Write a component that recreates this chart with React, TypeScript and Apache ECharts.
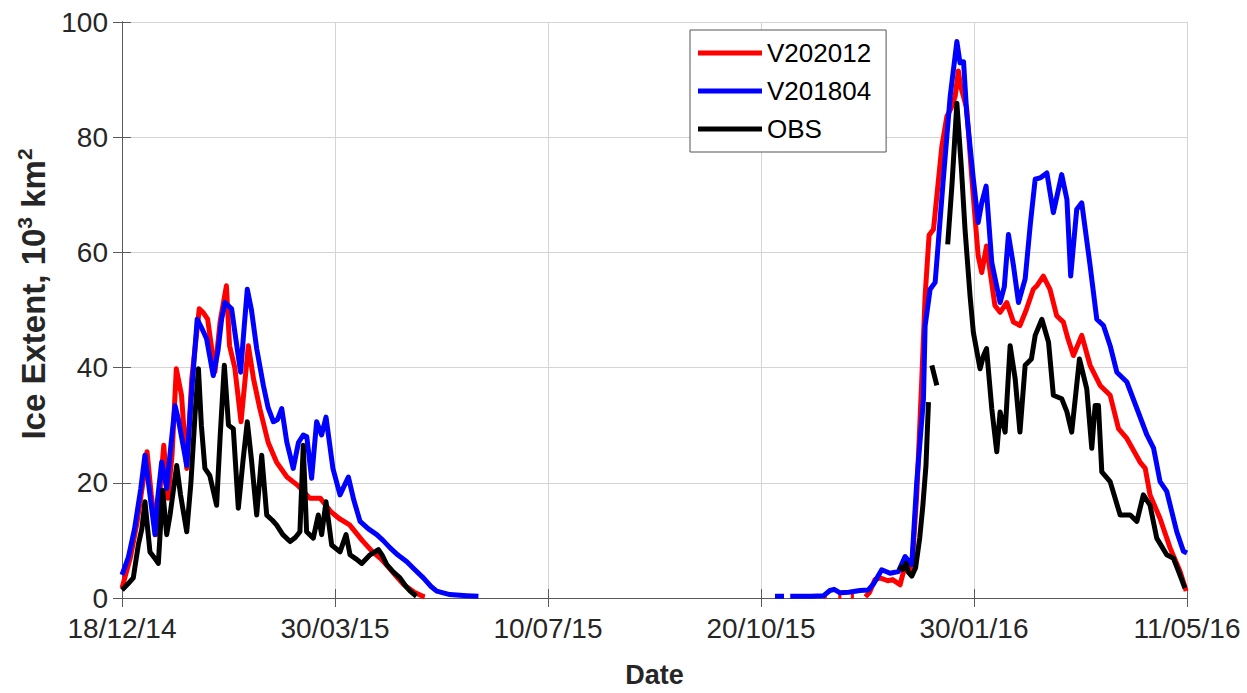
import React, { useEffect, useRef } from 'react';
import * as echarts from 'echarts';

// x values are days since 18/12/14
const xTickLabels = ['18/12/14', '30/03/15', '10/07/15', '20/10/15', '30/01/16', '11/05/16'];
const xTickStepDays = 102;
const xMaxDays = 510;
const yMin = 0;
const yMax = 100;
const yStep = 20;

const seriesNames = ['V202012', 'V201804', 'OBS'];

type Pt = [number, number | null];

const v202012: Pt[] = [
  [0, 1.7], [4, 7], [7, 12.7], [10, 20], [12, 25.4], [14, 18], [16.5, 11], [18, 18], [20, 26.5], [22, 17.3],
  [24, 25], [26, 39.8], [28.5, 35.2], [31, 22.5], [33.4, 38], [37, 50.2], [39, 49.5], [41, 48.4], [44.5, 39.3],
  [47, 48], [50, 54.2], [51.5, 43.8], [54, 40], [57, 30.6], [60.5, 43.8], [63, 38], [66, 32.9], [70, 27],
  [74, 23.6], [79, 21], [84, 19.6], [90, 17.3], [95, 17.3], [100, 15], [104, 13.8], [109, 12.7], [115, 10],
  [120, 8], [124, 6.8], [128, 5.2], [132, 3.5], [135, 2.3], [140, 1], [144, 0.3], [145, 0.2],
  [146, null],
  [336, 0.3], [337.5, 0.3], [338, null], [343, 0.3], [344.5, 0.3], [345, null], [349, 0.3], [350.5, 0.3], [351, null],
  [356, 0.2], [358, 1], [360.6, 3.2], [363, 3.5], [366.7, 3], [369, 3.2], [372.6, 2.3], [375.5, 6.3],
  [378.2, 4.9], [380.6, 18], [383, 38], [384.6, 52.5], [386.5, 63], [388.6, 64], [392.6, 78.4], [395, 83.6],
  [397, 85], [399, 87.1], [400.5, 91.5], [401.5, 89], [404.5, 85], [407, 72.7], [410, 59.4], [411.7, 56.5],
  [414, 61.1], [418, 50.8], [420.5, 49.6], [423.7, 51.3], [426.9, 47.9], [430, 47.3], [433, 50], [436.4, 53.6],
  [438.1, 54.2], [441.2, 55.9], [444.4, 53.6], [447.6, 49], [450.8, 47.9], [453, 45], [455.6, 42.1],
  [459.6, 45.6], [463.6, 40.4], [468.4, 36.9], [473.2, 35.2], [477.2, 29.4], [481.2, 27.7], [487.5, 23.6],
  [490, 22.5], [492.3, 17.9], [497.1, 13.8], [501.9, 8.7], [506.7, 4.6], [509.6, 1.2],
];

const v201804: Pt[] = [
  [0, 4], [3, 7], [6, 12], [9, 19], [11, 24.8], [13, 19], [15.8, 11], [17, 17], [19, 23.6], [21.4, 19],
  [23, 25], [25.4, 33.4], [27, 31], [29, 27], [31, 23], [33, 34], [36, 48.4], [38, 47], [40.5, 45],
  [43.7, 38.6], [46, 43], [47.7, 48.4], [49.3, 51.3], [52.5, 50.2], [54.5, 45], [56.8, 39.2], [58.5, 47],
  [60, 53.6], [62, 50], [64.5, 43.3], [67.7, 36.9], [70, 33], [72.5, 30.6], [74.5, 31], [76.5, 32.9],
  [78.9, 27.1], [82, 22.5], [84.5, 27], [86.8, 28.3], [88.5, 28], [90.8, 20.8], [93.2, 30.6], [95.6, 28.3],
  [97.7, 31.4], [101, 22.5], [104.4, 17.9], [108.4, 21], [111, 17], [114, 13.3], [118, 12], [122, 11],
  [125, 10], [128.4, 8.7], [132, 7.5], [136.4, 6.3], [140, 5], [144.3, 3.5], [148, 2], [150.7, 1.2],
  [157, 0.6], [165, 0.4], [170.7, 0.3],
  [172, null],
  [312.7, 0.3], [317, 0.3], [318, null], [320, 0.3], [325, 0.3], [330, 0.3], [336, 0.4], [339, 1.3],
  [341, 1.5], [343.9, 0.9], [348, 1], [353.4, 1.3], [357.4, 1.4], [360, 2.5], [363.8, 4.9], [367.8, 4.3],
  [371.8, 4.6], [375, 7.2], [378.2, 5.8], [380.6, 20.2], [383.8, 34.6], [384.6, 47.3], [387, 53.6],
  [389.4, 54.8], [393.3, 72.7], [396.6, 87.1], [399.8, 96.6], [401.3, 92.9], [403, 93.1], [404.5, 84.2],
  [407.7, 72.7], [410, 65.2], [411.7, 68.6], [413.8, 71.5], [416.5, 58.3], [420.5, 51.3], [422.5, 54],
  [424.5, 63.1], [426.9, 57.7], [429.3, 51.3], [432.5, 55.4], [435, 65], [437.3, 72.7], [440, 73],
  [442.9, 73.8], [446, 66.9], [450, 73.5], [452.5, 69.2], [454.3, 55.9], [457.2, 67.5], [459.6, 68.6],
  [463.6, 57.7], [466.8, 48.4], [470, 47.3], [473.2, 43.8], [476.4, 39.2], [481.2, 37.5], [486, 32.9],
  [490.8, 28.3], [494, 26], [497.1, 20.2], [500.3, 18.5], [505.1, 11.5], [508.3, 8.1], [510, 7.8],
];

const obs: Pt[] = [
  [0, 1.4], [3, 2.5], [5.4, 3.5], [7.8, 9.2], [9.5, 12], [11, 16.7], [13.4, 8], [15.5, 7], [17.4, 6],
  [19.5, 18.7], [21.4, 11], [23, 14.4], [26.2, 23], [28, 18], [31, 11.5], [33, 20], [35, 32], [36.6, 39.8],
  [38, 30], [39.7, 22.5], [42, 21.3], [45.3, 16.1], [47, 28], [49, 40.4], [51, 30], [53.3, 29.4],
  [55.7, 15.6], [58, 24], [60, 30.6], [62, 24], [64.5, 14.4], [66.9, 24.8], [69.3, 14.4], [72, 13.5],
  [74, 12.7], [77, 11], [80.5, 9.8], [83, 10.5], [85.2, 11.5], [86.8, 26.5], [88.4, 11.5], [91.6, 10.4],
  [94, 14.4], [95.6, 11], [97.7, 16.7], [100.4, 9.2], [104.4, 8], [107.3, 11], [109.2, 7.5], [112, 6.8],
  [114.8, 6], [118.8, 7.5], [122.8, 8.4], [124.5, 7.5], [126.8, 5.8], [130, 4.5], [133.1, 3.5], [136, 2],
  [138, 1.2], [141, 0.3],
  [142, null],
  [372, 5.5], [374, 5], [375.5, 6], [376.5, 4.5], [378.2, 3.8], [380, 5.2], [382, 10.4], [383.5, 16],
  [385, 23], [386.2, 34], [387, null], [387.8, 40.4], [390.2, 36.9], [391, null], [395.4, 61.4], [397.5, 72],
  [399.8, 85.9], [402, 74.4], [403.7, 64], [406.1, 52.5], [407.7, 46.1], [410.9, 39.8], [412.5, 42],
  [414, 43.3], [416.5, 32.9], [418.9, 25.4], [420.5, 32.3], [422.9, 28.8], [425.3, 43.8], [427.7, 38.1],
  [430, 28.8], [432.5, 40.4], [435.5, 41.5], [437.3, 45.6], [440.5, 48.4], [443.7, 44.4], [446, 35.2],
  [450, 34.6], [452.5, 32.3], [454.8, 28.8], [458.5, 41.5], [462, 36.3], [464.4, 26], [466, 33.4],
  [467.6, 33.4], [469.2, 21.9], [473.2, 20.2], [478, 14.4], [482.8, 14.4], [486, 13.3], [489.1, 17.9],
  [492.3, 16.1], [495.5, 10.4], [500.3, 7.5], [503.5, 6.9], [506, 4.6], [509, 1.7],
];

const seriesColors = ['#ff0000', '#0000ff', '#000000'];
const FONT = '"Liberation Sans", Arial, Helvetica, sans-serif';
const TEXT = '#262626';
const AXIS = '#5a5a5a';

const toData = (pts: Pt[]) => pts.map(([x, y]) => [x, y === null ? '-' : y]);

export default function App() {
  const ref = useRef<HTMLDivElement>(null);
  useEffect(() => {
    if (!ref.current) return;
    const chart = echarts.init(ref.current, undefined, { renderer: 'svg' });
    const axisLine = { show: true, lineStyle: { color: AXIS, width: 1 } };
    const tick = { show: true, inside: true, length: 9, lineStyle: { color: AXIS, width: 1 } };
    chart.setOption({
      animation: false,
      backgroundColor: '#ffffff',
      grid: { left: 122, right: 60, top: 22, bottom: 93, show: false },
      legend: {
        data: seriesNames,
        orient: 'vertical',
        left: 690,
        top: 30,
        icon: 'rect',
        itemWidth: 64,
        itemHeight: 5,
        itemGap: 12,
        padding: [10, 15, 10, 8],
        backgroundColor: '#ffffff',
        borderColor: '#555555',
        borderWidth: 1,
        textStyle: { fontSize: 26, color: '#000', fontFamily: FONT },
      },
      xAxis: [
        {
          type: 'value',
          min: 0,
          max: xMaxDays,
          interval: xTickStepDays,
          position: 'bottom',
          axisLine,
          axisTick: tick,
          splitLine: { show: true, lineStyle: { color: '#d4d4d4', width: 1 } },
          axisLabel: {
            margin: 16,
            fontSize: 28,
            color: TEXT,
            fontFamily: FONT,
            formatter: (v: number) => xTickLabels[Math.round(v / xTickStepDays)] ?? '',
          },
          name: 'Date',
          nameLocation: 'middle',
          nameGap: 63,
          nameTextStyle: { fontSize: 27, fontWeight: 'bold', color: TEXT, fontFamily: FONT },
        },
        {
          type: 'value',
          min: 0,
          max: xMaxDays,
          interval: xTickStepDays,
          position: 'top',
          axisLine,
          axisTick: tick,
          splitLine: { show: false },
          axisLabel: { show: false },
        },
      ],
      yAxis: [
        {
          type: 'value',
          min: yMin,
          max: yMax,
          interval: yStep,
          position: 'left',
          axisLine,
          axisTick: tick,
          splitLine: { show: true, lineStyle: { color: '#d4d4d4', width: 1 } },
          axisLabel: { margin: 14, fontSize: 28, color: TEXT, fontFamily: FONT },
          name: '{b|Ice Extent, 10}{s|3}{b| km}{s|2}',
          nameLocation: 'middle',
          nameGap: 70,
          nameRotate: 90,
          nameTextStyle: {
            padding: [0, 0, 0, 32],
            rich: {
              b: { fontSize: 33, fontWeight: 'bold', color: TEXT, fontFamily: FONT, lineHeight: 38 },
              s: { fontSize: 21, fontWeight: 'bold', color: TEXT, fontFamily: FONT, verticalAlign: 'top' },
            },
          },
        },
        {
          type: 'value',
          min: yMin,
          max: yMax,
          interval: yStep,
          position: 'right',
          axisLine,
          axisTick: tick,
          splitLine: { show: false },
          axisLabel: { show: false },
        },
      ],
      series: [v202012, v201804, obs].map((pts, i) => ({
        name: seriesNames[i],
        type: 'line',
        xAxisIndex: 0,
        yAxisIndex: 0,
        data: toData(pts),
        symbol: 'none',
        connectNulls: false,
        color: seriesColors[i],
        lineStyle: { color: seriesColors[i], width: 5, join: 'round' },
        z: 2 + i,
      })),
    });
    return () => chart.dispose();
  }, []);
  return (
    <div
      ref={ref}
      style={{ position: 'absolute', left: 0, top: 0, width: 1247, height: 693, background: '#fff' }}
    />
  );
}
